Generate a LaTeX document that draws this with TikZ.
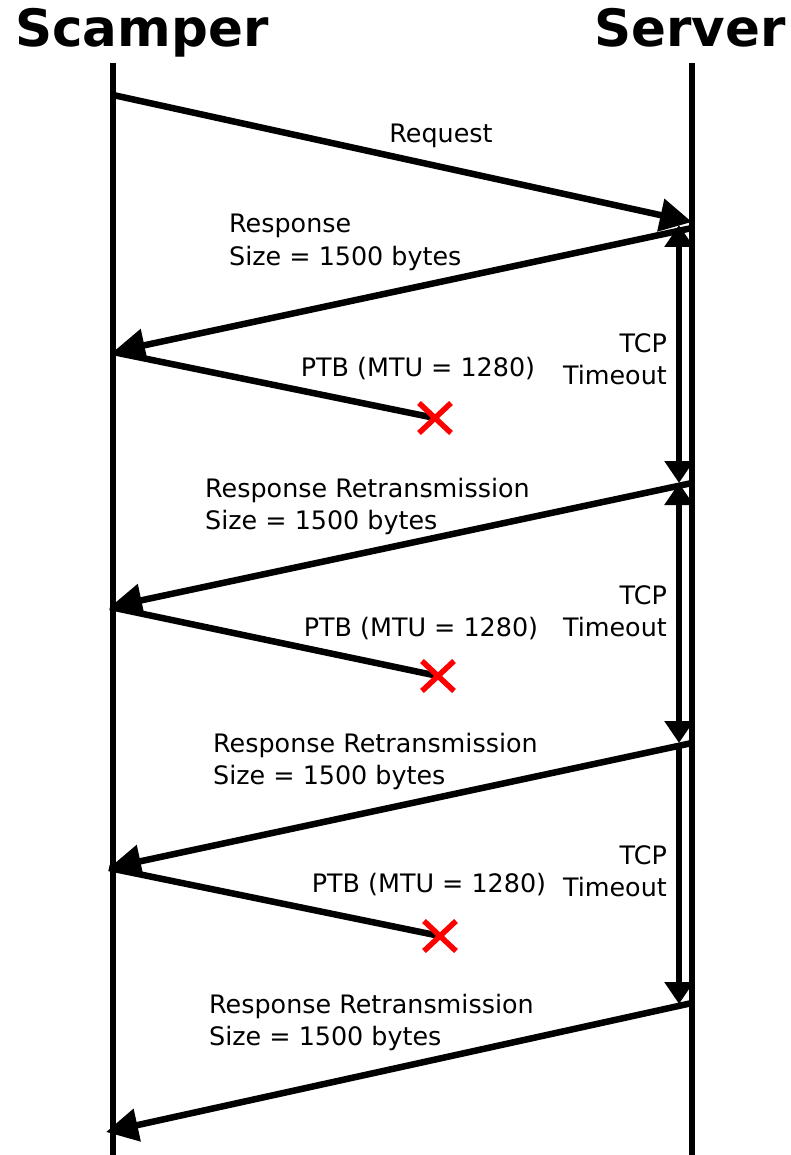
\documentclass[tikz,border=0pt]{standalone}
\usepackage{fontspec}
\setmainfont{DejaVu Sans}
\newfontfamily\lblfont{DejaVu Sans}
\newfontfamily\ttlfont{DejaVu Sans Bold}
\usetikzlibrary{arrows.meta}
\begin{document}
\begin{tikzpicture}[x=1pt,y=-1pt,
  lifeline/.style={line width=6.5pt},
  msg/.style={line width=6.5pt,-{Triangle[length=32pt,width=32pt]}},
  ptbmsg/.style={line width=6.5pt},
  tmo/.style={line width=6pt,{Triangle[length=22pt,width=28pt]}-{Triangle[length=22pt,width=28pt]}},
  tmodown/.style={line width=6pt,-{Triangle[length=22pt,width=28pt]}},
  lossmark/.style={red,line width=5.5pt},
  ttl/.style={inner sep=0pt,font=\ttlfont\fontsize{51.5}{60}\selectfont},
  lbl/.style={inner sep=0pt,align=left,font=\lblfont\fontsize{25.4}{32.5}\selectfont},
  lblr/.style={inner sep=0pt,align=right,font=\lblfont\fontsize{25.4}{32.5}\selectfont},
]
\useasboundingbox (0,0) rectangle (790,1155);
% titles
\node[ttl,anchor=base west] (tscamper) at (15,47) {Scamper};
\node[ttl,anchor=base east] (tserver) at (786,47) {Server};
% lifelines
\coordinate (stop) at (113,63);
\coordinate (sbot) at (113,1155);
\coordinate (vtop) at (692,63);
\coordinate (vbot) at (692,1155);
\draw[lifeline] (stop) -- (sbot);
\draw[lifeline] (vtop) -- (vbot);
% message points
\coordinate (s0) at (113,95);
\coordinate (v1) at (692,222);
\coordinate (v2) at (692,228);
\coordinate (s2) at (113,352);
\coordinate (x1) at (435,418);
\coordinate (v3) at (692,483);
\coordinate (s3) at (110,607);
\coordinate (x2) at (438,676);
\coordinate (v4) at (692,743);
\coordinate (s4) at (109,868);
\coordinate (x3) at (440,936);
\coordinate (v5) at (692,1003);
\coordinate (s5) at (106,1132);
% timeout points
\coordinate (t1) at (679,225);
\coordinate (t2) at (679,483);
\coordinate (t3) at (679,743);
\coordinate (t4) at (679,1004);
% messages
\draw[msg] (s0) -- (v1);
\draw[msg] (v2) -- (s2);
\draw[ptbmsg] (s2) -- (x1);
\draw[msg] (v3) -- (s3);
\draw[ptbmsg] (s3) -- (x2);
\draw[msg] (v4) -- (s4);
\draw[ptbmsg] (s4) -- (x3);
\draw[msg] (v5) -- (s5);
% loss marks
\foreach \p in {x1,x2,x3}{
  \draw[lossmark] ([shift={(-16,-15)}]\p) -- ([shift={(16,15)}]\p);
  \draw[lossmark] ([shift={(-16,15)}]\p) -- ([shift={(16,-15)}]\p);
}
% timeouts
\draw[tmo] (t1) -- (t2);
\draw[tmo] (t2) -- (t3);
\draw[tmodown] (t3) -- (t4);
% labels
\node[lbl,anchor=base] (lreq) at (441,143) {Request};
\node[lbl,anchor=base west] (lr1a) at (229,233) {Response};
\node[lbl,anchor=base west] (lr1b) at (229,266) {Size = 1500 bytes};
\node[lbl,anchor=base] (lp1) at (418,376) {PTB (MTU = 1280)};
\node[lblr,anchor=base east] (lt1a) at (667,352) {TCP};
\node[lblr,anchor=base east] (lt1b) at (667,384) {Timeout};
\node[lbl,anchor=base west] (lr2a) at (205,497) {Response Retransmission};
\node[lbl,anchor=base west] (lr2b) at (205,529) {Size = 1500 bytes};
\node[lbl,anchor=base] (lp2) at (421,636) {PTB (MTU = 1280)};
\node[lblr,anchor=base east] (lt2a) at (667,604) {TCP};
\node[lblr,anchor=base east] (lt2b) at (667,636) {Timeout};
\node[lbl,anchor=base west] (lr3a) at (213,752) {Response Retransmission};
\node[lbl,anchor=base west] (lr3b) at (213,784) {Size = 1500 bytes};
\node[lbl,anchor=base] (lp3) at (429,892) {PTB (MTU = 1280)};
\node[lblr,anchor=base east] (lt3a) at (667,864) {TCP};
\node[lblr,anchor=base east] (lt3b) at (667,896) {Timeout};
\node[lbl,anchor=base west] (lr4a) at (209,1013) {Response Retransmission};
\node[lbl,anchor=base west] (lr4b) at (209,1045) {Size = 1500 bytes};
\end{tikzpicture}
\end{document}
